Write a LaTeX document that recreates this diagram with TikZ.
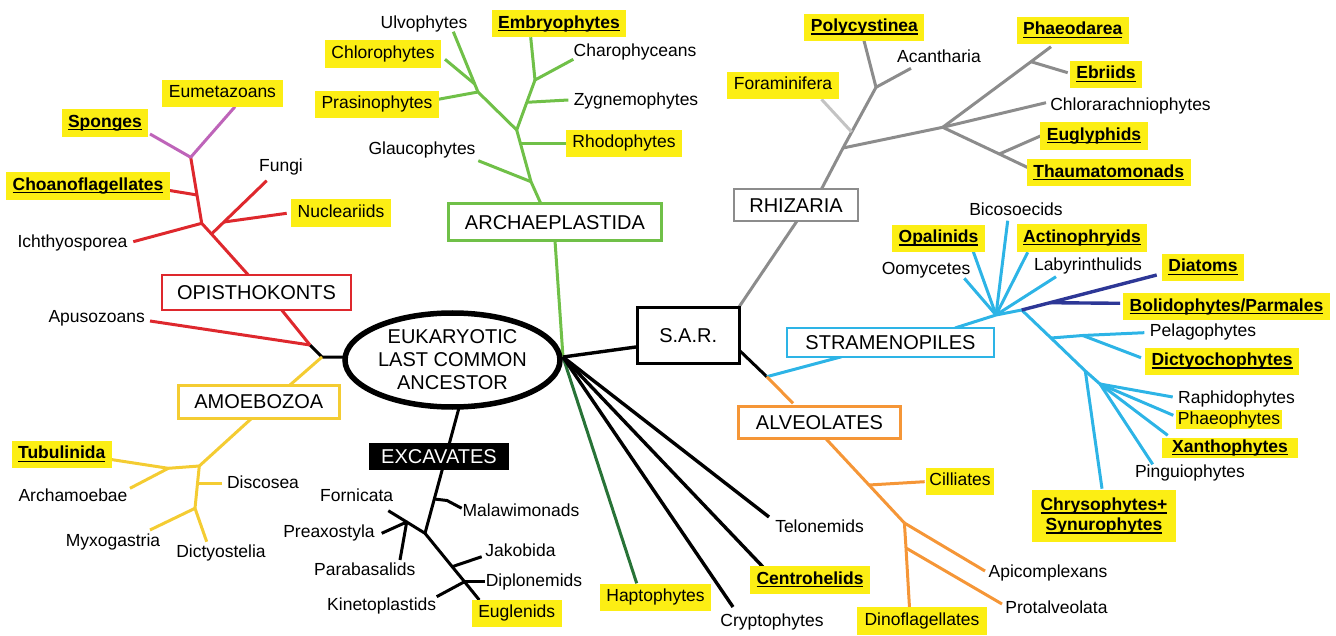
\documentclass[tikz,border=0pt]{standalone}
\usepackage{fontspec}
\setmainfont{Liberation Sans}
\usetikzlibrary{shapes.geometric,backgrounds}
\definecolor{cred}{RGB}{222,40,45}
\definecolor{cpurple}{RGB}{190,100,185}
\definecolor{cyellow}{RGB}{244,204,50}
\definecolor{hlc}{RGB}{252,238,20}
\definecolor{cgreen}{RGB}{112,192,72}
\definecolor{cdkgreen}{RGB}{40,115,55}
\definecolor{cgray}{RGB}{140,140,140}
\definecolor{cltgray}{RGB}{195,195,195}
\definecolor{cblue}{RGB}{45,180,230}
\definecolor{cdkblue}{RGB}{45,55,150}
\definecolor{corange}{RGB}{245,150,55}
\newsavebox\ulbox
\newcommand\ulb[1]{\sbox\ulbox{\bfseries #1}\rlap{\vrule width\wd\ulbox height -1.7pt depth 3.0pt}\usebox\ulbox}
\tikzset{
  lab/.style={font=\fontsize{17.5}{20}\selectfont, inner xsep=6.5pt, inner ysep=5.5pt, text height=12.6pt, text depth=3.8pt},
  hl/.style={lab, fill=hlc},
  grp/.style={draw, line width=2.6pt, fill=white, font=\fontsize{20}{22}\selectfont, text height=14.3pt, text depth=0pt, inner sep=0pt},
  br/.style={line width=3pt, line join=round},
  blk/.style={br, black},
  rad/.style={line width=3.4pt, black, line join=round},
}
\begin{document}
\begin{tikzpicture}[x=1pt,y=-1pt]
\useasboundingbox (0,0) rectangle (1336,636);
% ---------- central and group nodes ----------
\node[ellipse, draw, line width=5.5pt, fill=white, minimum width=215pt, minimum height=94pt, inner sep=0pt, align=center, font=\fontsize{20}{23}\selectfont] (luca) at (452.5,360) {EUKARYOTIC\\LAST COMMON\\ANCESTOR};
\node[grp, draw=cred, minimum width=189pt, minimum height=35pt] (opis) at (256.5,292.5) {OPISTHOKONTS};
\node[grp, draw=cyellow, minimum width=161pt, minimum height=33pt] (amoe) at (258.8,401.7) {AMOEBOZOA};
\node[grp, draw=cgreen, minimum width=213pt, minimum height=37pt] (arch) at (555,222.3) {ARCHAEPLASTIDA};
\node[grp, draw=cgray, minimum width=124pt, minimum height=32pt] (rhiz) at (796,205) {RHIZARIA};
\node[grp, draw=black, minimum width=102pt, minimum height=56pt] (sar) at (688.2,335.3) {S.A.R.};
\node[grp, draw=cblue, minimum width=207pt, minimum height=29pt] (stram) at (890.5,342.5) {STRAMENOPILES};
\node[grp, draw=corange, minimum width=162pt, minimum height=32pt] (alve) at (819.5,422.5) {ALVEOLATES};
\node[grp, draw=none, fill=black, text=white, minimum width=140pt, minimum height=27pt] (exca) at (439,456) {EXCAVATES};
% ---------- Opisthokonts ----------
\node[hl] (eumet) at (222.5,93.3) {Eumetazoans};
\node[hl] (spong) at (105,123) {\ulb{Sponges}};
\node[lab] (fungi) at (281,167) {Fungi};
\node[hl] (choan) at (88,186) {\ulb{Choanoflagellates}};
\node[hl] (nucle) at (341,213) {Nucleariids};
\node[lab] (ichth) at (72.5,242.7) {Ichthyosporea};
\node[lab] (apuso) at (96.7,318) {Apusozoans};
% ---------- Amoebozoa ----------
\node[hl] (tubul) at (61.7,454.5) {\ulb{Tubulinida}};
\node[lab] (archa) at (73,496.7) {Archamoebae};
\node[lab] (disco) at (263,484) {Discosea};
\node[lab] (myxog) at (113,541.7) {Myxogastria};
\node[lab] (dicty) at (221,553) {Dictyostelia};
% ---------- Excavates ----------
\node[lab] (forni) at (356.7,496.7) {Fornicata};
\node[lab] (malaw) at (521,511.7) {Malawimonads};
\node[lab] (preax) at (329,533.3) {Preaxostyla};
\node[lab] (parab) at (364.7,570.7) {Parabasalids};
\node[lab] (jakob) at (520.5,551.7) {Jakobida};
\node[lab] (diplo) at (534,581.7) {Diplonemids};
\node[lab] (kinet) at (381.7,606) {Kinetoplastids};
\node[hl] (eugle) at (516.7,613.3) {Euglenids};
\node[hl] (hapto) at (655.5,597.5) {Haptophytes};
% ---------- Archaeplastida ----------
\node[lab] (ulvo) at (424,24) {Ulvophytes};
\node[hl] (embry) at (559,23.7) {\ulb{Embryophytes}};
\node[hl] (chlor) at (383,54) {Chlorophytes};
\node[lab] (charo) at (635,52) {Charophyceans};
\node[hl] (prasi) at (377,104.5) {Prasinophytes};
\node[lab] (zygne) at (636,101) {Zygnemophytes};
\node[lab] (glauc) at (422,150) {Glaucophytes};
\node[hl] (rhodo) at (624,143.3) {Rhodophytes};
% ---------- Rhizaria ----------
\node[hl] (foram) at (783,85.3) {Foraminifera};
\node[hl] (polyc) at (864.4,27.3) {\ulb{Polycystinea}};
\node[lab] (acant) at (939,58.3) {Acantharia};
\node[hl] (phaeod) at (1072.7,30.5) {\ulb{Phaeodarea}};
\node[hl] (ebrii) at (1106,74.5) {\ulb{Ebriids}};
\node[lab] (chlra) at (1130.5,106) {Chlorarachniophytes};
\node[hl] (eugly) at (1094,136) {\ulb{Euglyphids}};
\node[hl] (thaum) at (1108.7,172.7) {\ulb{Thaumatomonads}};
% ---------- Stramenopiles ----------
\node[lab] (bicos) at (1016,210.7) {Bicosoecids};
\node[hl] (opali) at (938.5,238.3) {\ulb{Opalinids}};
\node[hl] (actin) at (1082,238) {\ulb{Actinophryids}};
\node[lab] (oomyc) at (926,270) {Oomycetes};
\node[lab] (labyr) at (1088,266) {Labyrinthulids};
\node[hl] (diato) at (1203,267.5) {\ulb{Diatoms}};
\node[hl] (bolid) at (1226.5,306.7) {\ulb{Bolidophytes/Parmales}};
\node[lab] (pelag) at (1203,332) {Pelagophytes};
\node[hl] (dicto) at (1222,361.3) {\ulb{Dictyochophytes}};
\node[lab] (raphi) at (1236.5,399.3) {Raphidophytes};
\node[hl, inner xsep=1.5pt, inner ysep=1.5pt] (phaeo) at (1229,419.7) {Phaeophytes};
\node[hl, inner xsep=10pt, inner ysep=1.8pt] (xanth) at (1230,447.7) {\ulb{Xanthophytes}};
\node[lab] (pingu) at (1190,473.3) {Pinguiophytes};
\node[fill=hlc, align=center, font=\fontsize{17.5}{20}\selectfont, minimum width=144pt, minimum height=52pt, inner sep=0pt] (chrys) at (1104,516) {\ulb{Chrysophytes+}\\\ulb{Synurophytes}};
% ---------- Alveolates ----------
\node[hl, inner xsep=3.5pt] (cilli) at (960,481.5) {Cilliates};
\node[lab] (apico) at (1048,573.3) {Apicomplexans};
\node[lab] (prota) at (1056.5,608.7) {Protalveolata};
\node[hl, inner xsep=8pt] (dinof) at (922,621) {Dinoflagellates};
% ---------- others ----------
\node[lab] (telon) at (819.5,528.3) {Telonemids};
\node[hl] (centr) at (810,580) {\ulb{Centrohelids}};
\node[lab] (crypt) at (772,621.7) {Cryptophytes};
% ---------- junction coordinates ----------
\coordinate (lw) at (346,357); \coordinate (J1) at (322,357); \coordinate (J2) at (310,345);
\coordinate (oB) at (281.7,310); \coordinate (apE) at (150,321);
\coordinate (oT) at (248.3,275); \coordinate (oF) at (211.5,234); \coordinate (oI) at (201.7,223.3);
\coordinate (oC) at (197,195); \coordinate (oP) at (190.7,157.3);
\coordinate (fuE) at (266.7,180.7); \coordinate (oN) at (224,222); \coordinate (nuE) at (286.7,213.3);
\coordinate (icE) at (133.3,241.7); \coordinate (chE) at (166.7,190);
\coordinate (spE) at (150,134); \coordinate (euE) at (235,106.7);
\coordinate (aB) at (290,385); \coordinate (aT0) at (251.7,418.3); \coordinate (aT) at (199.3,466);
\coordinate (aA) at (168.3,468.3); \coordinate (tuE) at (103.3,458.3); \coordinate (arE) at (130,488.3);
\coordinate (aDs) at (197.5,483.3); \coordinate (aD) at (195,508.3); \coordinate (diE) at (221.7,483.3);
\coordinate (myE) at (150,530); \coordinate (dyE) at (206.7,541.7);
\coordinate (lb) at (459.3,406.7); \coordinate (eM) at (434.3,499); \coordinate (E1) at (425,533.3);
\coordinate (eM2) at (447,500.5); \coordinate (maE) at (461.7,508.3);
\coordinate (foE) at (388.3,510.7); \coordinate (eP) at (406.7,522); \coordinate (eJ) at (452.2,566.7);
\coordinate (eD) at (464.5,581.7); \coordinate (egE) at (479.3,600);
\coordinate (prE) at (381.7,533.3); \coordinate (paE) at (400,560); \coordinate (jaE) at (481.7,556.7);
\coordinate (dpE) at (485,581.7); \coordinate (kiE) at (436.7,596.7);
\coordinate (H) at (563,357); \coordinate (gB) at (555,240.7); \coordinate (gT) at (541,204);
\coordinate (G1) at (531,181.7); \coordinate (gR) at (520.6,144); \coordinate (G2) at (516.7,130);
\coordinate (glE) at (478.3,160.7); \coordinate (rhE) at (569.3,144); \coordinate (gZ) at (526.8,102.3);
\coordinate (G4) at (535,80); \coordinate (zyE) at (568.3,100); \coordinate (emE) at (530.7,37.3);
\coordinate (chaE) at (573.3,59.3); \coordinate (G3) at (478,92); \coordinate (psE) at (438.3,99.3);
\coordinate (gC) at (474.7,84); \coordinate (ulE) at (453.3,31.7); \coordinate (clE) at (445,59.3);
\coordinate (haE) at (636.7,583.3); \coordinate (sL) at (638,346.7);
\coordinate (crE) at (733,607); \coordinate (ceE) at (763,567); \coordinate (teE) at (769,517);
\coordinate (sTR) at (739,307); \coordinate (rB) at (797,221); \coordinate (rT) at (821.5,189);
\coordinate (R1) at (843,148); \coordinate (rF) at (851.7,132); \coordinate (R3) at (876,87.3);
\coordinate (poE) at (864,40.7); \coordinate (acE) at (911,68.3); \coordinate (R2) at (942.7,127.3);
\coordinate (rE) at (1031,61.7); \coordinate (phE) at (1051,46.7); \coordinate (ebE) at (1067.7,72.7);
\coordinate (clrE) at (1046,102.7); \coordinate (rTh) at (999.3,154); \coordinate (thE) at (1029.3,168.3);
\coordinate (eyE) at (1042.7,135); \coordinate (foE2) at (821.5,99.3);
\coordinate (sBR) at (739,350); \coordinate (SA) at (766.8,376.7);
\coordinate (stB) at (841.7,356.7); \coordinate (stT) at (955,328); \coordinate (S1) at (996,315);
\coordinate (S2) at (1021.7,310); \coordinate (S3) at (1051,338); \coordinate (S4) at (1085.3,371);
\coordinate (S5) at (1100,384);
\coordinate (ooE) at (964.3,278.3); \coordinate (opE) at (973.3,251.7); \coordinate (biE) at (1007.7,220.7);
\coordinate (atE) at (1027.7,252.3); \coordinate (laE) at (1056,276.7);
\coordinate (sPd) at (1082.7,335.5); \coordinate (peE) at (1144.3,332.7); \coordinate (dcE) at (1141,357.7);
\coordinate (cyE) at (1102,488.7);
\coordinate (raE) at (1172.7,397); \coordinate (pheE) at (1173.3,415.3); \coordinate (xaE) at (1167.7,435.3);
\coordinate (piE) at (1152.7,464.3);
\coordinate (sBo) at (1050,302.7); \coordinate (daE) at (1156.7,275); \coordinate (boE) at (1120,303.3);
\coordinate (alT) at (793,403.3); \coordinate (alB) at (825.5,438.3); \coordinate (aC) at (869,485);
\coordinate (AL2) at (904.4,523); \coordinate (ciE) at (924.7,481.7); \coordinate (apxE) at (985,571);
\coordinate (aPr) at (906,548); \coordinate (dnE) at (909.5,607.7); \coordinate (ptE) at (1002,604);
% ---------- connectors ----------
\begin{pgfonlayer}{background}
% opisthokonts / amoebozoa root
\draw[blk] (lw) -- (J1) -- (J2);
\draw[br, cred] (J2) -- (oB);
\draw[br, cred] (J2) -- (apE);
\draw[br, cred] (oT) -- (oF) -- (oI) -- (oC) -- (oP);
\draw[br, cred] (oF) -- (fuE);
\draw[br, cred] (oN) -- (nuE);
\draw[br, cred] (oI) -- (icE);
\draw[br, cred] (oC) -- (chE);
\draw[br, cpurple] (spE) -- (oP) -- (euE);
\draw[br, cyellow] (J1) -- (aB);
\draw[br, cyellow] (aT0) -- (aT) -- (aA);
\draw[br, cyellow] (tuE) -- (aA) -- (arE);
\draw[br, cyellow] (aT) -- (aDs) -- (aD);
\draw[br, cyellow] (aDs) -- (diE);
\draw[br, cyellow] (myE) -- (aD) -- (dyE);
% excavates
\draw[blk] (lb) -- (eM) -- (E1);
\draw[blk] (eM) -- (eM2) -- (maE);
\draw[blk] (foE) -- (eP) -- (E1) -- (eJ) -- (eD) -- (egE);
\draw[blk] (prE) -- (eP) -- (paE);
\draw[blk] (eJ) -- (jaE);
\draw[blk] (eD) -- (dpE);
\draw[blk] (kiE) -- (eD);
% archaeplastida
\draw[br, cgreen] (H) -- (gB);
\draw[br, cgreen] (gT) -- (G1) -- (G2);
\draw[br, cgreen] (G1) -- (glE);
\draw[br, cgreen] (gR) -- (rhE);
\draw[br, cgreen] (G2) -- (gZ) -- (G4);
\draw[br, cgreen] (gZ) -- (zyE);
\draw[br, cgreen] (emE) -- (G4) -- (chaE);
\draw[br, cgreen] (G2) -- (G3) -- (psE);
\draw[br, cgreen] (G3) -- (gC) -- (ulE);
\draw[br, cgreen] (gC) -- (clE);
% radiating lines
\draw[br, cdkgreen] (H) -- (haE);
\draw[rad] (H) -- (sL);
\draw[rad] (H) -- (crE);
\draw[rad] (H) -- (ceE);
\draw[rad] (H) -- (teE);
% rhizaria
\draw[br, cgray] (sTR) -- (rB);
\draw[br, cgray] (rT) -- (R1) -- (rF) -- (R3);
\draw[br, cltgray] (rF) -- (foE2);
\draw[br, cgray] (poE) -- (R3) -- (acE);
\draw[br, cgray] (R1) -- (R2);
\draw[br, cgray] (R2) -- (rE) -- (phE);
\draw[br, cgray] (rE) -- (ebE);
\draw[br, cgray] (R2) -- (clrE);
\draw[br, cgray] (R2) -- (rTh) -- (thE);
\draw[br, cgray] (rTh) -- (eyE);
% stramenopiles
\draw[blk] (sBR) -- (SA);
\draw[br, cblue] (SA) -- (stB);
\draw[br, cblue] (stT) -- (S1) -- (S2) -- (S3) -- (S4) -- (S5);
\draw[br, cblue] (S1) -- (ooE);
\draw[br, cblue] (S1) -- (opE);
\draw[br, cblue] (S1) -- (biE);
\draw[br, cblue] (S1) -- (atE);
\draw[br, cblue] (S1) -- (laE);
\draw[br, cblue] (S3) -- (sPd) -- (peE);
\draw[br, cblue] (sPd) -- (dcE);
\draw[br, cblue] (S4) -- (cyE);
\draw[br, cblue] (S5) -- (raE);
\draw[br, cblue] (S5) -- (pheE);
\draw[br, cblue] (S5) -- (xaE);
\draw[br, cblue] (S5) -- (piE);
\draw[line width=3.4pt, cdkblue, line join=round] (S2) -- (sBo) -- (daE);
\draw[line width=3.4pt, cdkblue] (sBo) -- (boE);
% alveolates
\draw[br, corange] (SA) -- (alT);
\draw[br, corange] (alB) -- (aC) -- (AL2);
\draw[br, corange] (aC) -- (ciE);
\draw[br, corange] (AL2) -- (apxE);
\draw[br, corange] (AL2) -- (aPr) -- (dnE);
\draw[br, corange] (aPr) -- (ptE);
\end{pgfonlayer}
\end{tikzpicture}
\end{document}
